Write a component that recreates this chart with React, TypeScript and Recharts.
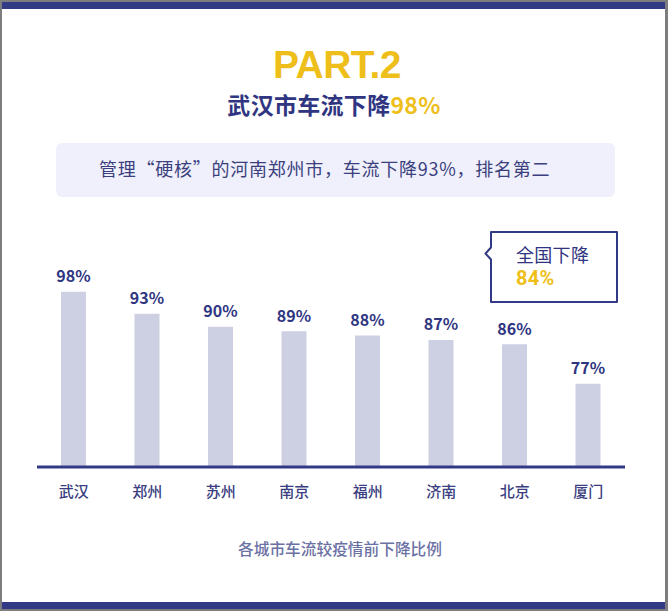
import React from 'react';
import { BarChart, Bar, XAxis, YAxis, LabelList } from 'recharts';

const cities = ['武汉', '郑州', '苏州', '南京', '福州', '济南', '北京', '厦门'];
const declines = [98, 93, 90, 89, 88, 87, 86, 77];
const yDomain = [58, 108];

const NAVY = '#2f3581';
const GOLD = '#eebf1a';
const BAR = '#cdcfe3';
const CJK = '"Noto Sans CJK SC", "Noto Sans", sans-serif';

const data = cities.map((c, i) => ({ city: c, value: declines[i] }));

const CityTick = (props: any) => {
  const { x, y, payload } = props;
  return (
    <text x={x} y={y + 21.5} textAnchor="middle" fill="#3a3e80" fontSize={15} fontWeight={500} fontFamily={CJK}>
      {payload.value}
    </text>
  );
};

export default function App() {
  return (
    <div style={{ position: 'absolute', left: 0, top: 0, width: 668, height: 611, background: '#7d7d7d', fontFamily: CJK }}>
      <div style={{ position: 'absolute', left: 2, top: 2, width: 663, height: 607, background: '#ffffff', overflow: 'hidden' }}>
        <div style={{ position: 'absolute', left: 0, top: 0, width: 663, height: 7, background: '#333a85' }} />
        <div style={{ position: 'absolute', left: 0, top: 600, width: 663, height: 7, background: '#333a85' }} />
      </div>

      {/* Title */}
      <div style={{ position: 'absolute', left: 237, top: 42, width: 200, height: 46, display: 'flex', alignItems: 'center', justifyContent: 'center', color: GOLD, fontFamily: '"Liberation Sans", sans-serif', fontSize: 39, fontWeight: 700, lineHeight: '46px', letterSpacing: -0.6 }}>
        PART.2
      </div>
      <div style={{ position: 'absolute', left: 184, top: 93, width: 300, height: 23, display: 'flex', alignItems: 'center', justifyContent: 'center', fontSize: 23, fontWeight: 700, lineHeight: '23px', letterSpacing: 0.3 }}>
        <span style={{ color: NAVY }}>武汉市车流下降</span>
        <span style={{ color: GOLD }}>98%</span>
      </div>

      {/* Info box */}
      <div style={{ position: 'absolute', left: 56, top: 143, width: 559, height: 54, background: '#eff0fb', borderRadius: 6 }} />
      <div style={{ position: 'absolute', left: 99, top: 157, width: 500, height: 22, display: 'flex', alignItems: 'center', color: '#3b3f7e', fontSize: 18, lineHeight: '22px', letterSpacing: 0.75, whiteSpace: 'nowrap' }}>
        管理“硬核”的河南郑州市，车流下降93%，排名第二
      </div>

      {/* Chart */}
      <div style={{ position: 'absolute', left: 0, top: 0 }}>
        <BarChart width={668} height={611} data={data} margin={{ top: 248, right: 43, bottom: 105, left: 37 }}>
          <XAxis
            dataKey="city"
            height={39}
            axisLine={{ stroke: '#333a85', strokeWidth: 3 }}
            tickLine={false}
            tick={<CityTick />}
            interval={0}
          />
          <YAxis hide width={0} domain={yDomain} type="number" allowDataOverflow />
          <Bar dataKey="value" fill={BAR} barSize={25} isAnimationActive={false}>
            <LabelList
              dataKey="value"
              position="top"
              offset={9.5}
              formatter={(v: any) => `${v}%`}
              style={{ fill: NAVY, fontSize: 16, fontWeight: 700, fontFamily: CJK }}
            />
          </Bar>
        </BarChart>
      </div>

      {/* Callout */}
      <svg style={{ position: 'absolute', left: 0, top: 0 }} width={668} height={611} pointerEvents="none">
        <path d="M491 232 H617 V302 H491 V259.5 L485.5 253.5 L491 247.5 Z" fill="#ffffff" stroke="#333a85" strokeWidth={2} strokeLinejoin="round" />
      </svg>
      <div style={{ position: 'absolute', left: 516, top: 243.6, height: 20, display: 'flex', alignItems: 'center', color: NAVY, fontSize: 18, lineHeight: '20px', letterSpacing: 0.3, whiteSpace: 'nowrap' }}>
        全国下降
      </div>
      <div style={{ position: 'absolute', left: 516, top: 268.2, height: 20, display: 'flex', alignItems: 'center', color: GOLD, fontFamily: 'Roboto, sans-serif', fontSize: 20, fontWeight: 700, lineHeight: '20px', letterSpacing: 0.3, whiteSpace: 'nowrap' }}>
        84%
      </div>

      {/* Caption */}
      <div style={{ position: 'absolute', left: 190, top: 539, width: 300, height: 20, display: 'flex', alignItems: 'center', justifyContent: 'center', color: '#6c71a4', fontSize: 15.7, fontWeight: 500, lineHeight: '20px', whiteSpace: 'nowrap' }}>
        各城市车流较疫情前下降比例
      </div>
    </div>
  );
}
